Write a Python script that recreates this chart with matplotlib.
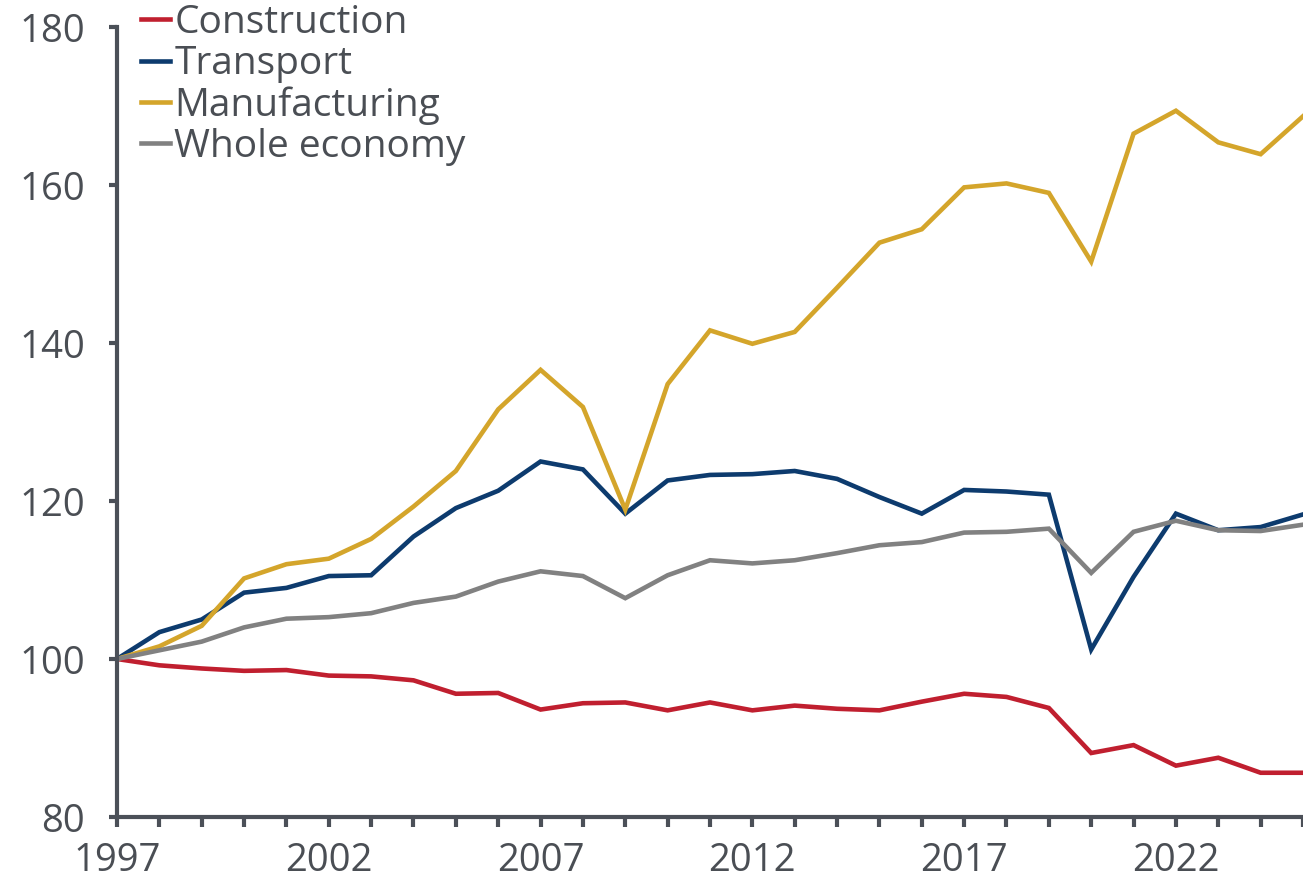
import matplotlib
matplotlib.use('Agg')
import matplotlib.pyplot as plt

plt.rcParams['font.family'] = ['Open Sans', 'DejaVu Sans']

years = list(range(1997, 2026))

construction = [100.0, 99.2, 98.8, 98.5, 98.6, 97.9, 97.8, 97.3, 95.6, 95.7,
                93.6, 94.4, 94.5, 93.5, 94.5, 93.5, 94.1, 93.7, 93.5, 94.6,
                95.6, 95.2, 93.8, 88.1, 89.1, 86.5, 87.5, 85.6, 85.6]
transport = [100.0, 103.4, 105.0, 108.4, 109.0, 110.5, 110.6, 115.5, 119.1, 121.3,
             125.0, 124.0, 118.4, 122.6, 123.3, 123.4, 123.8, 122.8, 120.5, 118.4,
             121.4, 121.2, 120.8, 101.2, 110.4, 118.4, 116.3, 116.7, 118.3]
manufacturing = [100.0, 101.6, 104.2, 110.2, 112.0, 112.7, 115.2, 119.3, 123.8, 131.6,
                 136.6, 131.9, 118.9, 134.8, 141.6, 139.9, 141.4, 147.0, 152.7, 154.4,
                 159.7, 160.2, 159.0, 150.3, 166.5, 169.4, 165.4, 163.9, 168.7]
whole_economy = [100.0, 101.1, 102.2, 104.0, 105.1, 105.3, 105.8, 107.1, 107.9, 109.8,
                 111.1, 110.5, 107.7, 110.6, 112.5, 112.1, 112.5, 113.4, 114.4, 114.8,
                 116.0, 116.1, 116.5, 110.9, 116.1, 117.5, 116.3, 116.2, 117.0]

series_names = ['Construction', 'Transport', 'Manufacturing', 'Whole economy']
series_colors = ['#C01F2F', '#0D3B6E', '#D4A52B', '#818181']

axis_col = '#4B5058'
text_col = '#4A4E54'

fig = plt.figure(figsize=(13.03, 8.88), dpi=100)
ax = fig.add_axes([117 / 1303, 71 / 888, 1186 / 1303, 790 / 888])

for vals, name, col in zip([construction, transport, manufacturing, whole_economy],
                           series_names, series_colors):
    ax.plot(years, vals, color=col, lw=3.3, label=name, solid_joinstyle='miter')

ax.set_xlim(1997, 1997 + 1186 / 42.5)
ax.set_ylim(80, 180)
ax.set_yticks([80, 100, 120, 140, 160, 180])
ax.set_xticks(years, minor=True)
ax.set_xticks([1997, 2002, 2007, 2012, 2017, 2022])

for side in ['top', 'right']:
    ax.spines[side].set_visible(False)
for side in ['left', 'bottom']:
    ax.spines[side].set_color(axis_col)
    ax.spines[side].set_linewidth(3)
    ax.spines[side].set_capstyle('projecting')

ax.tick_params(axis='x', which='both', direction='out', length=7, width=3,
               color=axis_col, labelsize=27.5, labelcolor=text_col, pad=11)
ax.tick_params(axis='y', direction='out', length=6, width=3,
               color=axis_col, labelsize=27.5, labelcolor=text_col, pad=17)

leg = ax.legend(loc='upper left', bbox_to_anchor=(0.0205, 1.029), frameon=False,
                fontsize=28, handlelength=0.75, handletextpad=0.1,
                labelspacing=0.08, borderaxespad=0, borderpad=0)
for t in leg.get_texts():
    t.set_color(text_col)

fig.savefig('out.png', dpi=100)
